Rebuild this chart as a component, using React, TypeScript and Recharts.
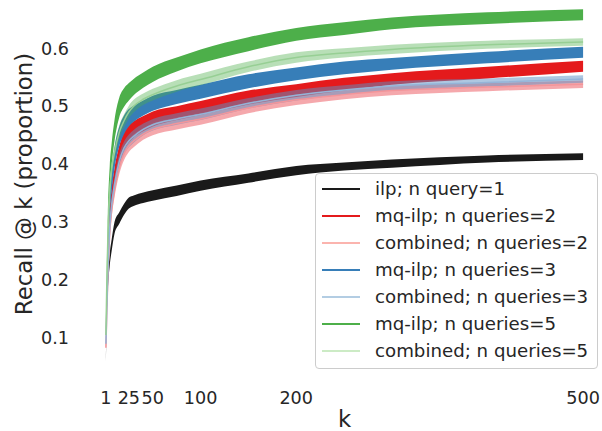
import { Area, ComposedChart, Legend, Line, XAxis, YAxis } from 'recharts';

// k positions (linear x axis)
const K_VALUES = [1, 2, 3, 5, 7, 10, 15, 20, 25, 30, 40, 50, 75, 100, 150, 200, 250, 300, 400, 500];

// mean recall @ k per run
const ILP_1 = [0.062, 0.15, 0.19, 0.235, 0.26, 0.29, 0.307, 0.322, 0.333, 0.337, 0.342, 0.346, 0.354, 0.363, 0.376, 0.389, 0.396, 0.401, 0.409, 0.413];
const MQ_ILP_2 = [0.085, 0.16, 0.22, 0.3, 0.34, 0.375, 0.415, 0.44, 0.452, 0.46, 0.47, 0.478, 0.488, 0.497, 0.515, 0.527, 0.538, 0.547, 0.558, 0.569];
const COMBINED_2 = [0.083, 0.15, 0.2, 0.28, 0.32, 0.355, 0.395, 0.418, 0.432, 0.44, 0.452, 0.46, 0.47, 0.478, 0.497, 0.511, 0.52, 0.527, 0.533, 0.538];
const MQ_ILP_3 = [0.095, 0.18, 0.25, 0.33, 0.37, 0.41, 0.448, 0.468, 0.48, 0.487, 0.497, 0.505, 0.516, 0.525, 0.543, 0.556, 0.566, 0.573, 0.584, 0.593];
const COMBINED_3 = [0.09, 0.155, 0.21, 0.29, 0.33, 0.365, 0.405, 0.428, 0.44, 0.448, 0.46, 0.468, 0.478, 0.486, 0.505, 0.519, 0.528, 0.535, 0.541, 0.547];
const MQ_ILP_5 = [0.11, 0.22, 0.3, 0.38, 0.418, 0.458, 0.498, 0.515, 0.525, 0.533, 0.545, 0.555, 0.572, 0.586, 0.607, 0.624, 0.634, 0.643, 0.652, 0.658];
const COMBINED_5 = [0.105, 0.2, 0.27, 0.35, 0.39, 0.42, 0.455, 0.475, 0.49, 0.5, 0.512, 0.52, 0.535, 0.546, 0.568, 0.584, 0.592, 0.598, 0.606, 0.611];

// half-width of the shaded confidence bands
const ILP_SPREAD = [0.004, 0.008, 0.009, 0.01, 0.01, 0.01, 0.01, 0.0095, 0.0095, 0.009, 0.009, 0.009, 0.009, 0.009, 0.008, 0.008, 0.007, 0.007, 0.006, 0.006];
const MQ_SPREAD = [0.005, 0.01, 0.014, 0.017, 0.018, 0.018, 0.017, 0.016, 0.015, 0.014, 0.013, 0.013, 0.012, 0.012, 0.012, 0.011, 0.011, 0.01, 0.01, 0.0095];
const COMBINED_SPREAD = [0.004, 0.008, 0.011, 0.012, 0.012, 0.012, 0.012, 0.011, 0.011, 0.011, 0.01, 0.01, 0.01, 0.01, 0.009, 0.009, 0.008, 0.008, 0.007, 0.0065];

const X_TICKS = [1, 25, 50, 100, 200, 500];
const Y_TICKS = [0.1, 0.2, 0.3, 0.4, 0.5, 0.6];

const TEXT_COLOR = '#262626';
const FONT = '"DejaVu Sans", sans-serif';

interface Series {
  key: string;
  name: string;
  values: number[];
  spread: number[];
  bandColor: string;
  bandOpacity: number;
  lineColor?: string;
  legendColor: string;
}

const SERIES: Series[] = [
  { key: 'ilp1', name: 'ilp; n query=1', values: ILP_1, spread: ILP_SPREAD, bandColor: '#1a1a1a', bandOpacity: 1, legendColor: '#1a1a1a' },
  { key: 'mq2', name: 'mq-ilp; n queries=2', values: MQ_ILP_2, spread: MQ_SPREAD, bandColor: '#e41a1c', bandOpacity: 1, legendColor: '#e41a1c' },
  { key: 'comb2', name: 'combined; n queries=2', values: COMBINED_2, spread: COMBINED_SPREAD, bandColor: '#ec6168', bandOpacity: 0.55, lineColor: '#f3959a', legendColor: '#fbb4ae' },
  { key: 'mq3', name: 'mq-ilp; n queries=3', values: MQ_ILP_3, spread: MQ_SPREAD, bandColor: '#377eb8', bandOpacity: 1, legendColor: '#377eb8' },
  { key: 'comb3', name: 'combined; n queries=3', values: COMBINED_3, spread: COMBINED_SPREAD, bandColor: '#5b8fc4', bandOpacity: 0.5, lineColor: '#94b4d8', legendColor: '#b3cde3' },
  { key: 'mq5', name: 'mq-ilp; n queries=5', values: MQ_ILP_5, spread: MQ_SPREAD, bandColor: '#4daf4a', bandOpacity: 1, legendColor: '#4daf4a' },
  { key: 'comb5', name: 'combined; n queries=5', values: COMBINED_5, spread: COMBINED_SPREAD, bandColor: '#4daf4a', bandOpacity: 0.4, lineColor: '#97cf94', legendColor: '#ccebc5' },
];

const data = K_VALUES.map((k, i) => {
  const row: Record<string, number | [number, number]> = { k };
  for (const s of SERIES) {
    row[s.key] = s.values[i];
    row[`${s.key}Band`] = [s.values[i] - s.spread[i], s.values[i] + s.spread[i]];
  }
  return row;
});

function LegendBox() {
  return (
    <div
      style={{
        width: 281,
        border: '1px solid #cccccc',
        borderRadius: 4,
        background: 'rgba(255,255,255,0.85)',
        padding: '1px 0 4px 0',
        fontFamily: FONT,
        fontSize: 18.2,
        color: TEXT_COLOR,
      }}
    >
      {SERIES.map((s) => (
        <div key={s.key} style={{ display: 'flex', alignItems: 'center', height: 27 }}>
          <div style={{ marginLeft: 6, width: 38, height: 2, background: s.legendColor }} />
          <span style={{ marginLeft: 15, whiteSpace: 'nowrap' }}>{s.name}</span>
        </div>
      ))}
    </div>
  );
}

export default function App() {
  return (
    <div style={{ width: 602, height: 431, overflow: 'hidden', position: 'relative', background: '#fff' }}>
      <style>{'body{margin:0}'}</style>
      <ComposedChart
        width={607}
        height={431}
        data={data}
        margin={{ top: 0, right: 0, bottom: 0, left: 0 }}
        style={{ fontFamily: FONT }}
      >
        <XAxis
          type="number"
          dataKey="k"
          domain={[-24, 525]}
          allowDataOverflow
          ticks={X_TICKS}
          interval={0}
          height={51}
          axisLine={false}
          tickLine={false}
          tickSize={6}
          tickMargin={6}
          tick={{ fontSize: 17.6, fill: TEXT_COLOR }}
          label={{ value: 'k', position: 'insideBottom', offset: 4, fontSize: 22.8, fill: TEXT_COLOR }}
        />
        <YAxis
          type="number"
          domain={[0.0275, 0.6833]}
          allowDataOverflow
          ticks={Y_TICKS}
          interval={0}
          width={82}
          axisLine={false}
          tickLine={false}
          tickSize={6}
          tickMargin={7}
          tickFormatter={(v: number) => v.toFixed(1)}
          tick={{ fontSize: 17.6, fill: TEXT_COLOR }}
          label={{
            content: () => (
              <text
                x={24}
                y={184}
                transform="rotate(-90 24 184)"
                textAnchor="middle"
                dominantBaseline="central"
                fontSize={22.8}
                fill={TEXT_COLOR}
              >
                Recall @ k (proportion)
              </text>
            ),
          }}
        />
        {SERIES.map((s) => (
          <Area
            key={`${s.key}Band`}
            type="monotone"
            dataKey={`${s.key}Band`}
            stroke="none"
            fill={s.bandColor}
            fillOpacity={s.bandOpacity}
            isAnimationActive={false}
            legendType="none"
            activeDot={false}
          />
        ))}
        {SERIES.filter((s) => s.lineColor).map((s) => (
          <Line
            key={s.key}
            type="monotone"
            dataKey={s.key}
            stroke={s.lineColor}
            strokeWidth={1.5}
            dot={false}
            activeDot={false}
            isAnimationActive={false}
            legendType="none"
          />
        ))}
        <Legend
          layout="vertical"
          align="center"
          verticalAlign="middle"
          content={() => <LegendBox />}
          wrapperStyle={{ left: 315, top: 173, width: 283 }}
        />
      </ComposedChart>
    </div>
  );
}
